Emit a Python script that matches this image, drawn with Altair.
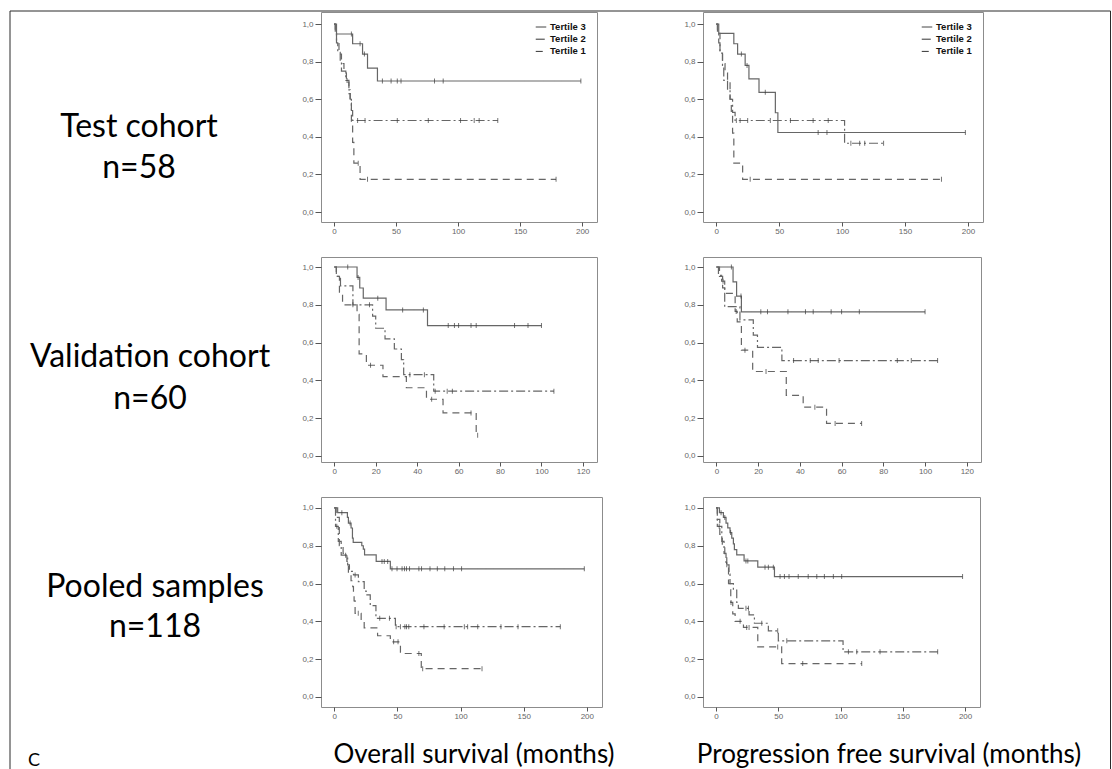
import altair as alt
import pandas as pd

# ---------------- text ----------------
TERTILES = ["Tertile 3", "Tertile 2", "Tertile 1"]
ROW_LABELS = ["Test cohort", "Validation cohort", "Pooled samples"]
ROW_N = ["n=58", "n=60", "n=118"]
X_TITLES = ["Overall survival (months)", "Progression free survival (months)"]
PANEL_LETTER = "C"
Y_TICKS = [0.0, 0.2, 0.4, 0.6, 0.8, 1.0]
X_TICKS_200 = [0, 50, 100, 150, 200]
X_TICKS_120 = [0, 20, 40, 60, 80, 100, 120]

# ---------------- Test cohort, overall survival ----------------
TEST_OS_T3_TIME = [0, 2, 15, 23, 27, 35, 199]
TEST_OS_T3_SURV = [1.0, 0.947, 0.895, 0.84, 0.765, 0.697, 0.697]
TEST_OS_T3_CENS = [14, 21, 24.5, 39, 46, 51, 54, 81, 88, 199]
TEST_OS_T2_TIME = [0, 1, 2, 3, 5, 6, 9.5, 12, 13, 14, 15, 132]
TEST_OS_T2_SURV = [1.0, 0.95, 0.90, 0.85, 0.80, 0.75, 0.70, 0.65, 0.60, 0.54, 0.487, 0.487]
TEST_OS_T2_CENS = [10.5, 19, 25, 51, 76, 102, 113, 117, 132]
TEST_OS_T1_TIME = [0, 1, 2, 4, 6, 8, 10, 12, 13, 14, 15, 16, 21, 179]
TEST_OS_T1_SURV = [1.0, 0.95, 0.90, 0.84, 0.79, 0.74, 0.69, 0.63, 0.58, 0.47, 0.37, 0.26, 0.174, 0.174]
TEST_OS_T1_CENS = [19.5, 27, 179]

# ---------------- Test cohort, progression free survival ----------------
TEST_PFS_T3_TIME = [0, 2, 14, 17, 23, 26, 34, 47, 49, 198]
TEST_PFS_T3_SURV = [1.0, 0.95, 0.895, 0.84, 0.78, 0.708, 0.637, 0.528, 0.423, 0.423]
TEST_PFS_T3_CENS = [20, 24.5, 39, 81, 88, 198]
TEST_PFS_T2_TIME = [0, 1, 2, 3, 5, 6, 9, 11, 13, 15, 102, 133]
TEST_PFS_T2_SURV = [1.0, 0.95, 0.90, 0.845, 0.78, 0.70, 0.65, 0.60, 0.53, 0.487, 0.366, 0.366]
TEST_PFS_T2_CENS = [16, 19, 25, 43, 59, 77, 89, 107, 114, 118, 133]
TEST_PFS_T1_TIME = [0, 1, 3, 5, 7, 9, 11, 12, 13, 14, 21, 179]
TEST_PFS_T1_SURV = [1.0, 0.95, 0.85, 0.79, 0.74, 0.70, 0.60, 0.53, 0.42, 0.26, 0.174, 0.174]
TEST_PFS_T1_CENS = [27, 179]

# ---------------- Validation cohort, overall survival ----------------
VAL_OS_T3_TIME = [0, 11, 12.3, 14, 25, 45, 100]
VAL_OS_T3_SURV = [1.0, 0.945, 0.889, 0.835, 0.773, 0.69, 0.69]
VAL_OS_T3_CENS = [6.5, 11.5, 21, 33, 43, 55, 58, 60, 66, 68.5, 87, 93.5, 100]
VAL_OS_T2_TIME = [0, 1, 3, 9, 18.5, 20, 24.5, 29, 32.4, 33.5, 48, 106]
VAL_OS_T2_SURV = [1.0, 0.95, 0.90, 0.80, 0.74, 0.676, 0.62, 0.566, 0.51, 0.43, 0.343, 0.343]
VAL_OS_T2_CENS = [17, 36.5, 43.5, 48.7, 54.5, 57, 106]
VAL_OS_T1_TIME = [0, 1, 2.5, 4, 11, 12, 15.5, 23.5, 34.8, 44.5, 52.5, 68.5, 69.2]
VAL_OS_T1_SURV = [1.0, 0.95, 0.86, 0.80, 0.75, 0.54, 0.48, 0.42, 0.361, 0.30, 0.228, 0.11, 0.11]
VAL_OS_T1_CENS = [9, 17.5, 47, 66, 69.2]

# ---------------- Validation cohort, progression free survival ----------------
VAL_PFS_T3_TIME = [0, 8, 9.7, 12, 100]
VAL_PFS_T3_SURV = [1.0, 0.921, 0.846, 0.763, 0.763]
VAL_PFS_T3_CENS = [7.2, 11.8, 21.3, 24.5, 34.3, 42.7, 46.4, 55, 60, 68.5, 100]
VAL_PFS_T2_TIME = [0, 1, 2.5, 4, 11.3, 17.7, 19.7, 31.4, 106]
VAL_PFS_T2_SURV = [1.0, 0.956, 0.925, 0.79, 0.72, 0.64, 0.575, 0.505, 0.505]
VAL_PFS_T2_CENS = [3.2, 37, 45, 48.8, 58.8, 86.7, 93.4, 106]
VAL_PFS_T1_TIME = [0, 1.5, 3, 4, 9, 10, 12, 17.4, 33.5, 41.6, 52.8, 69.6]
VAL_PFS_T1_SURV = [1.0, 0.95, 0.89, 0.86, 0.765, 0.71, 0.56, 0.447, 0.321, 0.258, 0.172, 0.172]
VAL_PFS_T1_CENS = [9.5, 13.7, 23.8, 47.2, 56.9, 69.6]

# ---------------- Pooled samples, overall survival ----------------
POOL_OS_T3_TIME = [0, 2.7, 10.4, 11.2, 13.3, 14.4, 15, 21.8, 23, 24, 33.2, 44.4, 198]
POOL_OS_T3_SURV = [1.0, 0.975, 0.95, 0.92, 0.894, 0.84, 0.818, 0.80, 0.782, 0.752, 0.717, 0.678, 0.678]
POOL_OS_T3_CENS = [6, 12.5, 37.8, 39.6, 42.3, 45.7, 49.7, 53.7, 55.6, 57.2, 59.6, 67, 69.1,
                   75.8, 81.6, 87.5, 94.4, 100.8, 198]
POOL_OS_T2_TIME = [0, 1, 3.2, 5.5, 10.6, 12, 15.2, 19.1, 23.7, 25.3, 28.5, 33, 48.4, 179]
POOL_OS_T2_SURV = [1.0, 0.903, 0.823, 0.75, 0.699, 0.665, 0.646, 0.61, 0.56, 0.54, 0.483, 0.416, 0.372, 0.372]
POOL_OS_T2_CENS = [2, 9, 16.5, 36, 43.7, 49, 52.4, 55.9, 57.2, 59, 71, 87, 103, 105.6, 113.6, 132, 145.5, 179]
POOL_OS_T1_TIME = [0, 1.5, 4, 7, 10, 11.2, 13.3, 14.6, 15.2, 15.7, 16.5, 21.3, 23.7, 34.3, 44.4, 52.4, 68.9, 117]
POOL_OS_T1_SURV = [1.0, 0.95, 0.80, 0.76, 0.717, 0.66, 0.615, 0.584, 0.54, 0.508, 0.4425, 0.41, 0.366,
                   0.324, 0.292, 0.23, 0.15, 0.15]
POOL_OS_T1_CENS = [19, 47, 50.5, 67, 70, 117]

# ---------------- Pooled samples, progression free survival ----------------
POOL_PFS_T3_TIME = [0, 2.7, 5.9, 8, 9.4, 11.2, 12.6, 13.9, 14.7, 16.6, 22.5, 33.5, 46.9, 198]
POOL_PFS_T3_SURV = [1.0, 0.975, 0.95, 0.92, 0.895, 0.87, 0.84, 0.81, 0.78, 0.752, 0.72, 0.687, 0.637, 0.637]
POOL_PFS_T3_CENS = [4, 7, 11.7, 24, 25.5, 39.3, 42, 46, 51.4, 54.9, 58.6, 66, 74, 80.9, 87, 94.2, 100.9, 198]
POOL_PFS_T2_TIME = [0, 1, 4.6, 6.4, 8, 10.4, 11.2, 13.9, 16.6, 17.9, 26.5, 30.8, 42, 50, 102, 178]
POOL_PFS_T2_SURV = [1.0, 0.903, 0.823, 0.76, 0.699, 0.65, 0.60, 0.566, 0.50, 0.469, 0.434, 0.39, 0.35,
                    0.297, 0.239, 0.239]
POOL_PFS_T2_CENS = [2.5, 8.6, 24, 26, 36.7, 49.5, 56.8, 106.3, 113, 131.7, 178]
POOL_PFS_T1_TIME = [0, 1, 3, 5, 7, 8.6, 10, 11.8, 13.4, 15.3, 22, 33.5, 52.7, 117]
POOL_PFS_T1_SURV = [1.0, 0.94, 0.86, 0.80, 0.75, 0.69, 0.60, 0.50, 0.44, 0.40, 0.368, 0.265, 0.177, 0.177]
POOL_PFS_T1_CENS = [12, 19.3, 24.6, 26.5, 49.5, 69.6, 117]

# ---------------- styling ----------------
DASHES = [[1, 0], [9, 3, 2, 3], [7, 5]]
LINE_COLOR = "#666666"
CENS_COLOR = "#3a3a3a"
BORDER_COLOR = "#2b2b2b"
FRAME_COLOR = "#8c8c8c"
LABEL_FONT = "Lato"
AXIS_FONT = "Liberation Sans"

ONE = pd.DataFrame({"k": [0]})


def level_at(times, surv, c):
    lev = surv[0]
    for ti, si in zip(times, surv):
        if ti <= c:
            lev = si
    return lev


def border(x1, x2, y1, y2):
    return alt.Chart(ONE).mark_rule(color=BORDER_COLOR, strokeWidth=1).encode(
        x=alt.value(x1), x2=alt.value(x2), y=alt.value(y1), y2=alt.value(y2)
    )


def panel(curves, xdom, xticks, ydom, w, h, show_legend, rules):
    line_rows, cens_rows = [], []
    for g, times, surv, cens in curves:
        for t, s in zip(times, surv):
            line_rows.append({"g": g, "t": t, "s": s})
        for c in cens:
            cens_rows.append({"g": g, "t": c, "s": level_at(times, surv, c)})
    ldf = pd.DataFrame(line_rows)
    cdf = pd.DataFrame(cens_rows)

    x = alt.X("t:Q", scale=alt.Scale(domain=xdom, nice=False, zero=False),
              axis=alt.Axis(values=xticks, format="d", title=None))
    y = alt.Y("s:Q", scale=alt.Scale(domain=ydom, nice=False, zero=False),
              axis=alt.Axis(values=Y_TICKS, format=".1f", title=None,
                            labelExpr="replace(datum.label, '.', ',')"))
    if show_legend:
        legend = alt.Legend(title=None, orient="none", legendX=w - 62, legendY=9,
                            symbolType="stroke", symbolSize=110, symbolStrokeWidth=1,
                            symbolStrokeColor="#333333", labelFont=AXIS_FONT,
                            labelFontSize=9.5, labelFontWeight="bold", labelColor="#111111",
                            rowPadding=1.2, padding=0, labelOffset=3)
    else:
        legend = None
    lines = alt.Chart(ldf).mark_line(interpolate="step-after", color=LINE_COLOR, strokeWidth=1.2).encode(
        x=x, y=y,
        strokeDash=alt.StrokeDash("g:N", scale=alt.Scale(domain=TERTILES, range=DASHES), legend=legend),
    )
    cens = alt.Chart(cdf).mark_tick(orient="vertical", size=5, thickness=1, color=CENS_COLOR).encode(
        x="t:Q", y="s:Q"
    )
    return alt.layer(lines, cens, *rules).properties(width=w, height=h)


def text_cell(text, cx, by, w, h, size, line_height, rules):
    df = pd.DataFrame({"label": [text]})
    txt = alt.Chart(df).mark_text(font=LABEL_FONT, fontSize=size, align="center", baseline="alphabetic",
                                  lineBreak="\n", lineHeight=line_height, color="#000000").encode(
        x=alt.value(cx), y=alt.value(by), text="label:N"
    )
    return alt.layer(txt, *rules).properties(width=w, height=h, view=alt.ViewBackground(stroke="transparent"))


LW = 219
OS_W = [276, 276, 281]
PFS_W = [280, 278, 277]
ROW_H = [210, 205, 210]
TITLE_H = 27
RIGHT_X = 407.5
GAP = 35
Y_DOMS = [[-0.053, 1.064], [-0.032, 1.053], [-0.053, 1.058]]
X_DOM_200 = [-10.5, 212]
X_DOM_120 = [-6.4, 126.8]

LABEL_POS = [(138, 125, 41), (149, 110, 42), (154, 100, 40)]

curves = [
    (
        [("Tertile 3", TEST_OS_T3_TIME, TEST_OS_T3_SURV, TEST_OS_T3_CENS),
         ("Tertile 2", TEST_OS_T2_TIME, TEST_OS_T2_SURV, TEST_OS_T2_CENS),
         ("Tertile 1", TEST_OS_T1_TIME, TEST_OS_T1_SURV, TEST_OS_T1_CENS)],
        [("Tertile 3", TEST_PFS_T3_TIME, TEST_PFS_T3_SURV, TEST_PFS_T3_CENS),
         ("Tertile 2", TEST_PFS_T2_TIME, TEST_PFS_T2_SURV, TEST_PFS_T2_CENS),
         ("Tertile 1", TEST_PFS_T1_TIME, TEST_PFS_T1_SURV, TEST_PFS_T1_CENS)],
    ),
    (
        [("Tertile 3", VAL_OS_T3_TIME, VAL_OS_T3_SURV, VAL_OS_T3_CENS),
         ("Tertile 2", VAL_OS_T2_TIME, VAL_OS_T2_SURV, VAL_OS_T2_CENS),
         ("Tertile 1", VAL_OS_T1_TIME, VAL_OS_T1_SURV, VAL_OS_T1_CENS)],
        [("Tertile 3", VAL_PFS_T3_TIME, VAL_PFS_T3_SURV, VAL_PFS_T3_CENS),
         ("Tertile 2", VAL_PFS_T2_TIME, VAL_PFS_T2_SURV, VAL_PFS_T2_CENS),
         ("Tertile 1", VAL_PFS_T1_TIME, VAL_PFS_T1_SURV, VAL_PFS_T1_CENS)],
    ),
    (
        [("Tertile 3", POOL_OS_T3_TIME, POOL_OS_T3_SURV, POOL_OS_T3_CENS),
         ("Tertile 2", POOL_OS_T2_TIME, POOL_OS_T2_SURV, POOL_OS_T2_CENS),
         ("Tertile 1", POOL_OS_T1_TIME, POOL_OS_T1_SURV, POOL_OS_T1_CENS)],
        [("Tertile 3", POOL_PFS_T3_TIME, POOL_PFS_T3_SURV, POOL_PFS_T3_CENS),
         ("Tertile 2", POOL_PFS_T2_TIME, POOL_PFS_T2_SURV, POOL_PFS_T2_CENS),
         ("Tertile 1", POOL_PFS_T1_TIME, POOL_PFS_T1_SURV, POOL_PFS_T1_CENS)],
    ),
]

cells = []
for r in range(3):
    h = ROW_H[r]
    top = -1 if r == 0 else -GAP
    cx, by, lh = LABEL_POS[r]
    lab_rules = [border(9, 9, top, h)]
    os_rules = []
    pfs_rules = [border(RIGHT_X, RIGHT_X, top, h)]
    if r == 0:
        lab_rules.append(border(9, LW + 101, -1, -1))
        os_rules.append(border(0, 382, -1, -1))
        pfs_rules.append(border(0, RIGHT_X, -1, -1))
    cells.append(text_cell(ROW_LABELS[r] + "\n" + ROW_N[r], cx, by, LW, h, 32, lh, lab_rules))
    xdom = X_DOM_120 if r == 1 else X_DOM_200
    xt = X_TICKS_120 if r == 1 else X_TICKS_200
    os_c, pfs_c = curves[r]
    cells.append(panel(os_c, xdom, xt, Y_DOMS[r], OS_W[r], h, r == 0, os_rules))
    cells.append(panel(pfs_c, xdom, xt, Y_DOMS[r], PFS_W[r], h, r == 0, pfs_rules))

# bottom row: axis titles and the next panel letter
cells.append(text_cell(PANEL_LETTER, 33, 24, LW, TITLE_H, 18, 18, [border(9, 9, -GAP, TITLE_H)]))
cells.append(text_cell(X_TITLES[0], 153, 21, OS_W[0], TITLE_H, 26, 30, []))
cells.append(text_cell(X_TITLES[1], 186, 21, PFS_W[0], TITLE_H, 26, 30,
                       [border(RIGHT_X, RIGHT_X, -GAP, TITLE_H)]))

chart = alt.concat(
    *cells, columns=3, spacing={"row": GAP, "column": 101}, bounds="flush"
).resolve_scale(
    strokeDash="independent"
).resolve_legend(
    strokeDash="independent"
).properties(
    padding={"left": 0, "top": 10, "right": 0, "bottom": 0}
).configure(
    background="white"
).configure_view(
    stroke=FRAME_COLOR, strokeWidth=1
).configure_axis(
    domain=False, grid=False, labelFont=AXIS_FONT, labelFontSize=8, labelColor="#666666",
    tickColor="#555555", tickWidth=1
).configure_axisX(
    tickSize=4, labelPadding=1
).configure_axisY(
    tickSize=6, labelPadding=2
)

chart.save("out.html", embed_options={"renderer": "svg", "actions": False})
